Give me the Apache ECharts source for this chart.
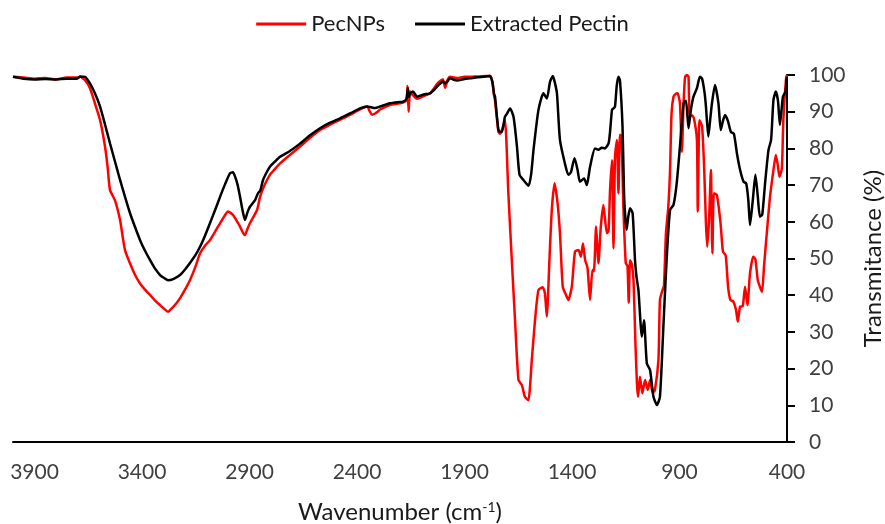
<!DOCTYPE html>
<html>
<head>
<meta charset="utf-8">
<script src="https://cdn.jsdelivr.net/npm/echarts@6/dist/echarts.min.js"></script>
<style>
  html, body { margin: 0; padding: 0; background: #fff; }
  #chart { width: 885px; height: 524px; }
</style>
</head>
<body>
<div id="chart"></div>
<script>
// FTIR spectra: wavenumber (cm-1) vs transmittance (%)
const seriesNames = ['PecNPs', 'Extracted Pectin'];

const pecnpWn = [4000, 3950, 3900, 3850, 3800, 3750, 3702, 3688, 3665, 3642, 3619, 3595, 3572, 3560, 3549, 3526, 3502, 3490, 3479, 3456, 3432, 3409, 3386, 3363, 3340, 3316, 3295, 3279, 3260, 3240, 3223, 3200, 3177, 3153, 3130, 3107, 3084, 3060, 3037, 3014, 3000, 2977, 2960, 2944, 2930, 2921, 2910, 2898, 2865, 2851, 2830, 2805, 2780, 2758, 2712, 2665, 2620, 2572, 2525, 2479, 2430, 2386, 2353, 2340, 2330, 2316, 2300, 2293, 2247, 2210, 2186, 2170, 2165, 2160, 2153, 2140, 2121, 2100, 2080, 2060, 2040, 2028, 2010, 2000, 1990, 1980, 1967, 1950, 1935, 1900, 1874, 1840, 1800, 1781, 1770, 1763, 1758, 1749, 1742, 1735, 1726, 1712, 1696, 1680, 1665, 1649, 1633, 1619, 1603, 1587, 1572, 1556, 1536, 1526, 1517, 1505, 1494, 1481, 1467, 1456, 1443, 1428, 1417, 1401, 1386, 1370, 1359, 1349, 1339, 1328, 1316, 1305, 1298, 1288, 1277, 1266, 1254, 1238, 1230, 1223, 1214, 1207, 1200, 1191, 1184, 1177, 1170, 1161, 1150, 1142, 1136, 1130, 1122, 1114, 1105, 1098, 1093, 1084, 1073, 1060, 1048, 1037, 1025, 1015, 998, 991, 979, 972, 963, 952, 944, 937, 928, 918, 909, 898, 889, 881, 874, 865, 858, 853, 843, 833, 819, 815, 807, 795, 785, 777, 771, 762, 754, 747, 740, 726, 709, 698, 685, 674, 663, 650, 637, 629, 618, 606, 595, 584, 572, 557, 547, 536, 526, 516, 507, 494, 479, 463, 452, 443, 435, 424, 417, 405, 401];
const pecnpT = [99.5, 99.3, 99.0, 99.2, 98.8, 99.3, 99.3, 99.5, 98.6, 96.4, 92.3, 87.7, 80.5, 75, 68.7, 65.9, 60.5, 56, 52.3, 48.7, 45.5, 43.2, 41.5, 40.1, 38.6, 37.3, 36.2, 35.5, 36.5, 37.8, 39.2, 41.5, 44.1, 47.5, 51.4, 53.5, 55, 57.3, 59.6, 61.8, 62.8, 61.9, 60.3, 58.7, 57, 56.4, 58, 59.6, 63.2, 66.8, 70, 72.8, 74.5, 75.9, 78.2, 80.5, 82.8, 85, 86.5, 87.8, 89.2, 90.6, 91.4, 90.0, 89.2, 89.5, 90.2, 90.6, 91.8, 92.2, 92.5, 93, 97, 90, 95.5, 94.5, 93.5, 94, 94.5, 95, 96.5, 97.5, 98.5, 98.8, 96.5, 98.5, 99.5, 99.3, 99.2, 99.5, 99.5, 99.6, 99.7, 99.7, 98, 94.5, 93, 88, 84.5, 84, 85, 87.7, 67.8, 49.6, 33.2, 16.9, 15.5, 12.3, 11.4, 22.3, 33.2, 41.4, 42.2, 40.5, 34.2, 49.6, 63.2, 70.5, 65, 56.9, 42.3, 40.1, 38.7, 42.3, 51.9, 52.3, 50.5, 54.1, 49.6, 47.5, 38.7, 46.9, 46.5, 58.7, 48.7, 58.7, 64.6, 56.9, 57.5, 68.7, 76.8, 52.8, 77.7, 82.3, 67.8, 83.7, 83.5, 64.1, 48.7, 48, 38, 49.5, 48.5, 44.1, 27, 16, 12.3, 17.8, 13.3, 16.9, 14.2, 16.9, 13.5, 14, 22.3, 38.7, 41.4, 42.7, 56.9, 64.1, 74.1, 89.5, 94.1, 94.8, 95, 92.3, 79.1, 92.3, 99.5, 100, 99.5, 88.6, 89, 88.2, 82.3, 62.8, 87.7, 86, 74.1, 59.6, 53.2, 61.4, 74.1, 51.4, 67.8, 67.3, 59.6, 51.9, 50.8, 42.3, 38.7, 38.3, 36, 32.8, 36.9, 37, 42.3, 37.3, 46, 50.5, 49.8, 44.1, 42.3, 40.9, 47.8, 56.9, 66.8, 74.1, 78.2, 75.5, 72.3, 74.5, 87.7, 98.6, 100];

const pectinWn = [4000, 3950, 3900, 3850, 3800, 3750, 3702, 3688, 3665, 3642, 3619, 3595, 3572, 3549, 3526, 3502, 3479, 3456, 3432, 3409, 3386, 3363, 3340, 3316, 3295, 3279, 3255, 3223, 3200, 3177, 3153, 3130, 3107, 3084, 3060, 3037, 3014, 2991, 2977, 2967, 2955, 2944, 2932, 2921, 2910, 2898, 2874, 2865, 2860, 2850, 2837, 2820, 2805, 2780, 2758, 2712, 2665, 2620, 2572, 2525, 2479, 2430, 2386, 2353, 2335, 2316, 2293, 2247, 2210, 2186, 2170, 2163, 2158, 2153, 2140, 2121, 2100, 2080, 2060, 2040, 2028, 2010, 2000, 1990, 1980, 1967, 1950, 1935, 1900, 1874, 1840, 1800, 1781, 1770, 1763, 1758, 1749, 1742, 1735, 1726, 1712, 1702, 1688, 1672, 1656, 1644, 1626, 1602, 1590, 1579, 1556, 1533, 1517, 1502, 1489, 1480, 1470, 1456, 1433, 1417, 1405, 1395, 1388, 1374, 1363, 1344, 1331, 1316, 1293, 1277, 1262, 1247, 1230, 1223, 1214, 1207, 1200, 1192, 1184, 1177, 1165, 1158, 1153, 1146, 1138, 1130, 1118, 1107, 1100, 1091, 1075, 1065, 1052, 1037, 1021, 1005, 991, 975, 960, 944, 928, 913, 898, 881, 870, 858, 847, 835, 819, 805, 795, 783, 777, 766, 757, 749, 735, 719, 708, 698, 688, 675, 661, 647, 633, 618, 602, 590, 580, 572, 559, 547, 536, 526, 515, 502, 486, 474, 463, 452, 442, 433, 419, 407, 401];
const pectinT = [99.5, 99.0, 98.8, 98.9, 98.8, 99.0, 99.0, 99.6, 99.5, 97.7, 95, 91.4, 86.5, 81.4, 76.5, 71.4, 66.8, 62.4, 58.5, 55, 52.1, 49.6, 47.3, 45.5, 44.6, 44.1, 44.4, 45.5, 47, 48.8, 50.8, 53.2, 56.2, 59.6, 63.2, 66.8, 70.2, 73.2, 73.5, 72.3, 70, 66.8, 63, 60.5, 62.5, 64.1, 65.9, 67.2, 67.8, 68.5, 71.4, 73.5, 75, 76.5, 77.7, 79.3, 81.3, 83.5, 85.5, 87, 88.2, 89.6, 90.9, 91.4, 91.2, 91.0, 91.4, 92.3, 92.6, 92.7, 93.5, 96.4, 94, 95, 95.5, 94.1, 94.5, 94.8, 95, 96, 96.8, 97.8, 98.2, 97.7, 98.2, 99.1, 98.7, 98.5, 98.9, 99.1, 99.4, 99.6, 99.7, 98, 95, 94.1, 88.6, 85, 84.5, 84.5, 88.6, 89.5, 90.9, 88.6, 80.5, 72.8, 71.4, 69.8, 73, 79.6, 90.5, 95, 93.6, 98.2, 99.7, 98, 95, 82.3, 75.9, 72.8, 73.5, 76, 77.3, 74.1, 70.9, 71.8, 70, 75, 80, 79.6, 80.2, 80, 81.4, 84.5, 90.5, 90.9, 91.4, 97, 99.5, 98.6, 85.9, 67.8, 62, 57.8, 61.5, 63.7, 62.3, 49.6, 45, 41.4, 28.7, 33.2, 21.4, 19.6, 12.3, 10.1, 12.3, 31.4, 49.6, 63.2, 64.6, 70.5, 80.5, 92.3, 93, 85.5, 90.5, 94.1, 96.4, 99.5, 99, 95, 91.4, 83.2, 88, 92.3, 97.3, 92.3, 85, 87.5, 89.1, 87.5, 84.5, 84, 78.7, 74.1, 70.9, 70.5, 66, 59.1, 65.9, 72.8, 67, 61.4, 62, 70.5, 79.6, 82.3, 93.2, 95.5, 93, 86.4, 94.1, 95.5, 99.5];

// Axis tick labels
const xTickValues = [3900, 3400, 2900, 2400, 1900, 1400, 900, 400];
const yTickValues = [0, 10, 20, 30, 40, 50, 60, 70, 80, 90, 100];

const zip = (xs, ys) => xs.map((x, i) => [x, ys[i]]);

const FONT = 'Lato, "Noto Sans", sans-serif';

const chart = echarts.init(document.getElementById('chart'), null, { renderer: 'canvas' });
chart.setOption({
  animation: false,
  backgroundColor: '#ffffff',
  textStyle: { fontFamily: FONT },
  legend: {
    top: 8,
    left: 'center',
    icon: 'rect',
    itemWidth: 50,
    itemHeight: 3,
    itemGap: 30,
    textStyle: { fontFamily: FONT, fontSize: 22, color: '#1a1a1a' },
    data: seriesNames
  },
  grid: {
    left: 13, right: 98, top: 75, bottom: 82,
    containLabel: false,
    outerBoundsMode: 'none'
  },
  xAxis: {
    type: 'value',
    inverse: true,
    min: 400,
    max: 4000,
    name: 'Wavenumber (cm{sup|-1})',
    nameLocation: 'middle',
    nameGap: 58,
    nameTextStyle: {
      fontFamily: FONT, fontSize: 24, color: '#1a1a1a',
      rich: { sup: { fontFamily: FONT, fontSize: 14, color: '#1a1a1a', verticalAlign: 'top', padding: [0, 0, 10, 0] } }
    },
    axisLine: { show: true, onZero: false, lineStyle: { color: '#000', width: 2 } },
    axisTick: { show: false },
    splitLine: { show: false },
    axisLabel: {
      customValues: xTickValues,
      formatter: (v) => String(v),
      margin: 20,
      fontFamily: FONT, fontSize: 21, color: '#404040'
    }
  },
  yAxis: {
    type: 'value',
    position: 'right',
    min: 0,
    max: 100,
    interval: 10,
    name: 'Transmitance (%)',
    nameLocation: 'middle',
    nameRotate: 90,
    nameGap: 74,
    nameTextStyle: { fontFamily: FONT, fontSize: 24, color: '#1a1a1a' },
    axisLine: { show: true, lineStyle: { color: '#000', width: 2 } },
    axisTick: { show: true, inside: false, length: 8, lineStyle: { color: '#000', width: 2 }, customValues: yTickValues },
    splitLine: { show: false },
    axisLabel: { margin: 22, fontFamily: FONT, fontSize: 21, color: '#404040', customValues: yTickValues }
  },
  series: [
    {
      name: seriesNames[0],
      type: 'line',
      data: zip(pecnpWn, pecnpT),
      showSymbol: false,
      smooth: 0.2,
      color: '#ff0000',
      lineStyle: { color: '#ff0000', width: 2.5 },
      z: 2
    },
    {
      name: seriesNames[1],
      type: 'line',
      data: zip(pectinWn, pectinT),
      showSymbol: false,
      smooth: 0.2,
      color: '#000000',
      lineStyle: { color: '#000000', width: 2.5 },
      z: 3
    }
  ]
});
</script>
</body>
</html>
